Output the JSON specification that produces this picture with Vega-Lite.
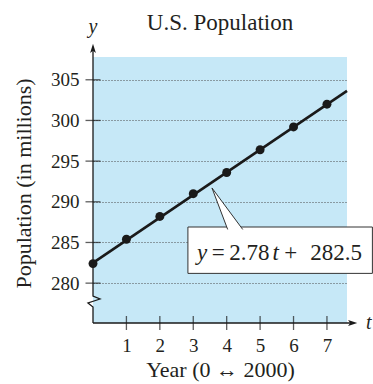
{
  "$schema": "https://vega.github.io/schema/vega-lite/v6.json",
  "width": 254,
  "height": 266,
  "autosize": {"type": "none"},
  "padding": {"left": 93, "top": 57, "right": 26, "bottom": 61},
  "background": "white",
  "title": {"text": "U.S. Population", "font": "Liberation Serif", "fontSize": 23, "fontWeight": "normal", "color": "#231f20", "anchor": "middle", "frame": "group", "baseline": "alphabetic", "offset": -36},
  "config": {"view": {"fill": "#c6e8f7", "stroke": null}, "font": "Liberation Serif"},
  "datasets": {
    "pop": [
      {"t": 0, "p": 282.4}, {"t": 1, "p": 285.4}, {"t": 2, "p": 288.2}, {"t": 3, "p": 291.0},
      {"t": 4, "p": 293.6}, {"t": 5, "p": 296.4}, {"t": 6, "p": 299.2}, {"t": 7, "p": 302.0}
    ],
    "fit": [{"t": 0, "p": 282.5}, {"t": 7.6, "p": 303.63}],
    "yaxis": [
      {"o": 1, "t": 0, "p": 275.1}, {"o": 2, "t": 0, "p": 277.07}, {"o": 3, "t": -0.15, "p": 277.56},
      {"o": 4, "t": 0.21, "p": 278.05}, {"o": 5, "t": 0, "p": 278.42}, {"o": 6, "t": 0, "p": 308.8}
    ],
    "callout": [{"o": 1, "t": 4.03, "p": 286.6}, {"o": 2, "t": 3.56, "p": 291.7}, {"o": 3, "t": 4.48, "p": 286.6}],
    "eqItalic": [{"s": "y", "t": 3.11}, {"s": "t", "t": 5.37}],
    "eqNormal": [{"s": "=", "t": 3.55}, {"s": "2.78", "t": 4.08}, {"s": "+", "t": 5.72}, {"s": "282.5", "t": 6.5}],
    "ticksY": [{"p": 280}, {"p": 285}, {"p": 290}, {"p": 295}, {"p": 300}, {"p": 305}],
    "ticksX": [{"t": 1}, {"t": 2}, {"t": 3}, {"t": 4}, {"t": 5}, {"t": 6}, {"t": 7}]
  },
  "layer": [
    {
      "data": {"name": "fit"},
      "mark": {"type": "line", "color": "#1a1a1a", "strokeWidth": 2.6},
      "encoding": {
        "x": {"field": "t", "type": "quantitative",
          "scale": {"domain": [0, 7.6], "nice": false, "zero": false},
          "axis": {"values": [1, 2, 3, 4, 5, 6, 7], "ticks": false, "tickSize": 0, "domain": false, "grid": false,
            "labelFontSize": 19, "labelPadding": 13, "labelColor": "#231f20", "labelFont": "Liberation Serif",
            "title": "Year (0 ↔ 2000)", "titleFontSize": 22, "titleFontWeight": "normal", "titleColor": "#231f20",
            "titleFont": "Liberation Serif", "titlePadding": 4}},
        "y": {"field": "p", "type": "quantitative",
          "scale": {"domain": [275.1, 307.8], "nice": false, "zero": false},
          "axis": {"values": [280, 285, 290, 295, 300, 305], "ticks": false, "tickSize": 0, "domain": false, "grid": true,
            "gridDash": [1, 2], "gridColor": "#4d4d4d", "gridWidth": 1,
            "labelFontSize": 19, "labelPadding": 14, "labelColor": "#231f20", "labelFont": "Liberation Serif",
            "title": "Population (in millions)", "titleFontSize": 22, "titleFontWeight": "normal", "titleColor": "#231f20",
            "titleFont": "Liberation Serif", "titlePadding": 15, "titleY": 126}}
      }
    },
    {
      "data": {"name": "pop"},
      "mark": {"type": "circle", "color": "#1a1a1a", "opacity": 1, "size": 80, "clip": false},
      "encoding": {
        "x": {"field": "t", "type": "quantitative"},
        "y": {"field": "p", "type": "quantitative"}
      }
    },
    {
      "data": {"name": "yaxis"},
      "mark": {"type": "line", "color": "#1a1a1a", "strokeWidth": 1.3, "clip": false},
      "encoding": {
        "x": {"field": "t", "type": "quantitative"},
        "y": {"field": "p", "type": "quantitative"},
        "order": {"field": "o", "type": "quantitative"}
      }
    },
    {
      "data": {"values": [{}]},
      "mark": {"type": "rule", "color": "#1a1a1a", "strokeWidth": 1.3, "clip": false},
      "encoding": {
        "x": {"datum": 0}, "x2": {"datum": 7.8},
        "y": {"datum": 275.1}
      }
    },
    {
      "data": {"values": [{}]},
      "mark": {"type": "point", "shape": "M0,-1L0.55,0.75L0,0.35L-0.55,0.75Z", "filled": true, "color": "#1a1a1a", "opacity": 1, "size": 110, "clip": false},
      "encoding": {"x": {"datum": 0}, "y": {"datum": 308.78}}
    },
    {
      "data": {"values": [{}]},
      "mark": {"type": "point", "shape": "M1,0L-0.75,-0.55L-0.35,0L-0.75,0.55Z", "filled": true, "color": "#1a1a1a", "opacity": 1, "size": 110, "clip": false},
      "encoding": {"x": {"datum": 7.75}, "y": {"datum": 275.1}}
    },
    {
      "data": {"name": "ticksY"},
      "mark": {"type": "tick", "orient": "horizontal", "color": "#1a1a1a", "size": 15, "thickness": 1.3, "clip": false},
      "encoding": {"x": {"datum": 0}, "y": {"field": "p", "type": "quantitative"}}
    },
    {
      "data": {"name": "ticksX"},
      "mark": {"type": "tick", "orient": "vertical", "color": "#1a1a1a", "size": 14, "thickness": 1.3, "clip": false},
      "encoding": {"x": {"field": "t", "type": "quantitative"}, "y": {"datum": 275.1}}
    },
    {
      "data": {"values": [{}]},
      "mark": {"type": "rect", "fill": "white", "stroke": "#333333", "strokeWidth": 1, "clip": false},
      "encoding": {
        "x": {"datum": 2.84}, "x2": {"datum": 8.36},
        "y": {"datum": 281.2}, "y2": {"datum": 286.9}
      }
    },
    {
      "data": {"name": "callout"},
      "mark": {"type": "line", "stroke": "#333333", "fill": "white", "strokeWidth": 1, "clip": false},
      "encoding": {
        "x": {"field": "t", "type": "quantitative"},
        "y": {"field": "p", "type": "quantitative"},
        "order": {"field": "o", "type": "quantitative"}
      }
    },
    {
      "data": {"name": "eqItalic"},
      "mark": {"type": "text", "font": "Liberation Serif", "fontStyle": "italic", "fontSize": 23, "align": "left", "baseline": "alphabetic", "color": "#231f20", "clip": false},
      "encoding": {
        "x": {"field": "t", "type": "quantitative"},
        "y": {"datum": 282.85},
        "text": {"field": "s"}
      }
    },
    {
      "data": {"name": "eqNormal"},
      "mark": {"type": "text", "font": "Liberation Serif", "fontSize": 23, "align": "left", "baseline": "alphabetic", "color": "#231f20", "clip": false},
      "encoding": {
        "x": {"field": "t", "type": "quantitative"},
        "y": {"datum": 282.85},
        "text": {"field": "s"}
      }
    },
    {
      "data": {"values": [{"s": "y"}]},
      "mark": {"type": "text", "font": "Liberation Serif", "fontStyle": "italic", "fontSize": 20, "align": "center", "baseline": "alphabetic", "color": "#231f20", "clip": false},
      "encoding": {"x": {"datum": 0}, "y": {"datum": 310.75}, "text": {"field": "s"}}
    },
    {
      "data": {"values": [{"s": "t"}]},
      "mark": {"type": "text", "font": "Liberation Serif", "fontStyle": "italic", "fontSize": 20, "align": "left", "baseline": "alphabetic", "color": "#231f20", "clip": false},
      "encoding": {"x": {"datum": 8.17}, "y": {"datum": 274.4}, "text": {"field": "s"}}
    }
  ]
}
